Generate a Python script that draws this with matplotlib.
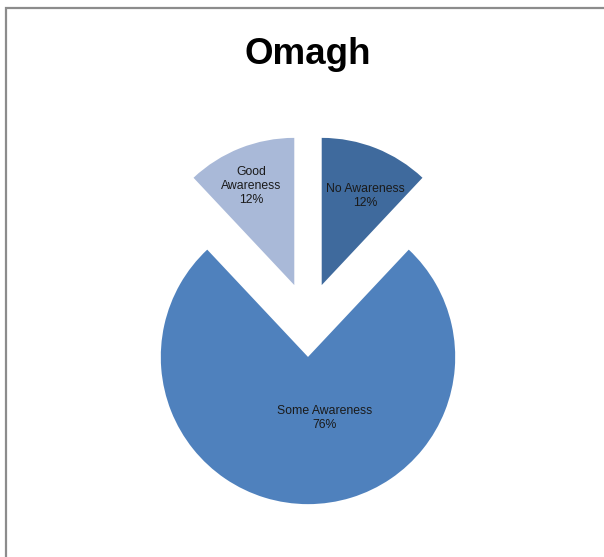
import numpy as np
import matplotlib
matplotlib.use("Agg")
import matplotlib.pyplot as plt
from matplotlib.patches import Rectangle

plt.rcParams['font.family'] = ['Liberation Sans', 'DejaVu Sans']

# data
categories = ['No Awareness', 'Some Awareness', 'Good Awareness']
label_text = ['No Awareness', 'Some Awareness', 'Good\nAwareness']
values = [12, 76, 12]
colors = ['#3F6A9D', '#4F81BD', '#A9B9D8']

fig = plt.figure(figsize=(6.04, 5.57), dpi=100)

# grey frame (chart area border, cut off at right/bottom)
fig.patches.append(Rectangle((6 / 604, -0.1), 1.2, 1.1 - 8 / 557,
                             transform=fig.transFigure, fill=False,
                             edgecolor='#8c8c8c', linewidth=1.6))

# pie: radius 1 = 147 px, centre at (308, 320) px
r_px = 147.2
lim = 1.6
w = 2 * lim * r_px
ax = fig.add_axes([(308 - w / 2) / 604, (237.3 - w / 2) / 557, w / 604, w / 557])
wedges, _ = ax.pie(values, colors=colors, startangle=90, counterclock=False,
                   explode=[0.253, 0.253, 0.253], radius=1,
                   wedgeprops=dict(linewidth=0))
ax.set_xlim(-lim, lim)
ax.set_ylim(-lim, lim)
ax.set_aspect('equal')
ax.axis('off')

# labels inside the slices
dist = [0.675, 0.43, 0.735]
dang = [-4.6, 15, 2]
for wdg, lab, v, d, da in zip(wedges, label_text, values, dist, dang):
    mid = np.deg2rad((wdg.theta1 + wdg.theta2) / 2 + da)
    cx, cy = wdg.center
    ax.text(cx + d * np.cos(mid), cy + d * np.sin(mid), f"{lab}\n{v}%",
            ha='center', va='center', fontsize=8.8, color='#1a1a1a',
            linespacing=1.2)

fig.text(308 / 604, 1 - 54 / 557, 'Omagh', ha='center', va='center',
         fontsize=26.5, fontweight='bold', color='black')

fig.savefig('out.png', dpi=100)
